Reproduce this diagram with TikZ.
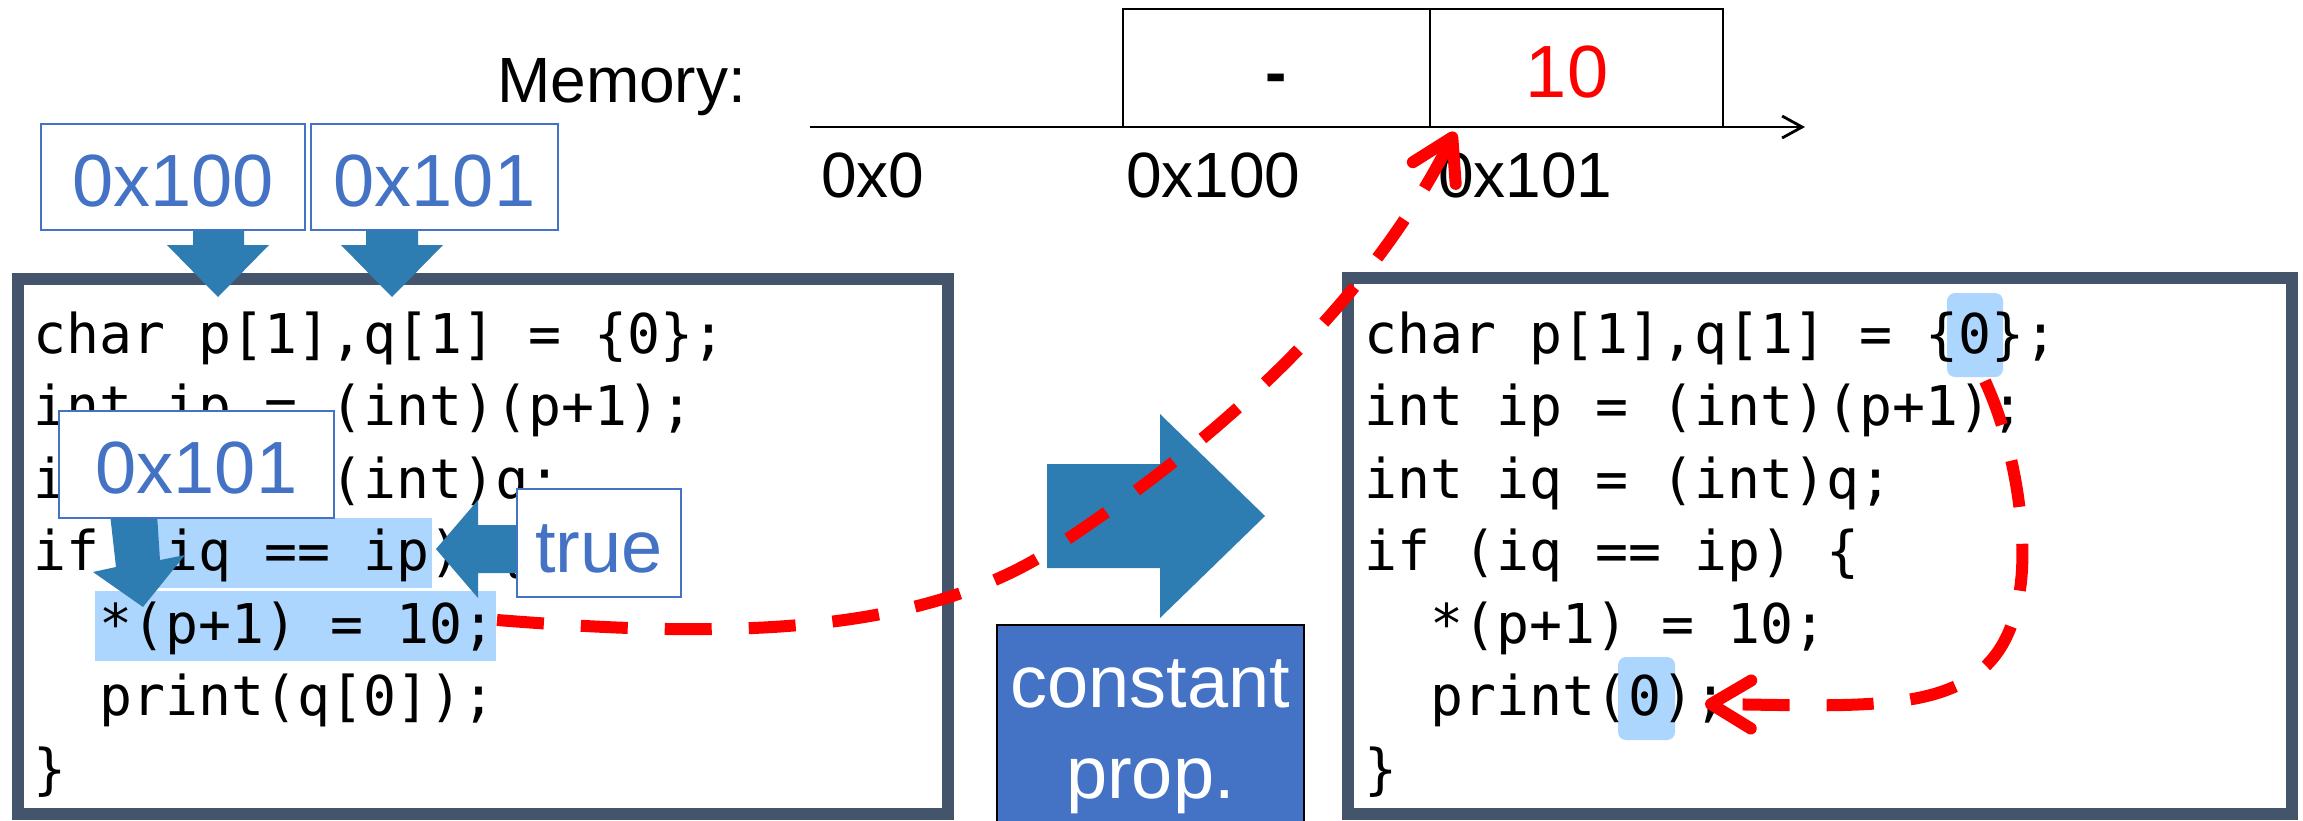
\documentclass[tikz,border=0pt]{standalone}
\usepackage{fontspec}
\usetikzlibrary{arrows.meta}
\newfontfamily\labelfont{Liberation Sans}
\newfontfamily\codefont{DejaVu Sans Mono}
\definecolor{lblue}{RGB}{68,114,196}
\definecolor{arrowblue}{RGB}{46,125,178}
\definecolor{hilite}{RGB}{173,214,255}
\definecolor{framegray}{RGB}{68,84,106}

\begin{document}
\begin{tikzpicture}[x=1pt,y=-1pt,
  codebox/.style={draw=framegray, line width=11.5pt, inner sep=0pt},
  hl/.style={fill=hilite, inner sep=0pt},
  codeline/.style={anchor=base west, inner sep=0pt, font=\codefont\fontsize{54.8}{72.5}\selectfont},
  lblbox/.style={draw=lblue, line width=2.5pt, fill=white, text=lblue, inner sep=0pt,
    text height=58pt, text depth=0pt, font=\labelfont\fontsize{74}{80}\selectfont},
  memtext/.style={anchor=base west, inner sep=0pt, font=\labelfont\fontsize{64}{70}\selectfont},
  memcell/.style={draw=black, line width=2.8pt, inner sep=0pt},
  blockarrow/.style={fill=arrowblue},
  bigtext/.style={anchor=base, inner sep=0pt, text=white, font=\labelfont\fontsize{74}{80}\selectfont},
  flow/.style={draw=red, line width=12pt, dash pattern=on 47pt off 37pt,
    -{Straight Barb[length=40pt,width=48pt,round]}},
]
\useasboundingbox (0,0) rectangle (2303,820);
\fill[white] (0,0) rectangle (2303,820);

% ---------- memory strip ----------
\node[memtext] (memlbl) at (497,102) {Memory:};
\node[memcell, minimum width=307pt, minimum height=118pt] (mcell1) at (1276.5,68) {};
\node[memcell, minimum width=293pt, minimum height=118pt] (mcell2) at (1576.5,68) {};
\coordinate (axisL) at (810,127);
\coordinate (axisR) at (1805,127);
\draw[line width=2.8pt, -{Straight Barb[length=20pt,width=22pt]}] (axisL) -- (axisR);
\node[anchor=base, inner sep=0pt, font=\labelfont\bfseries\fontsize{64}{70}\selectfont] (undef) at (1276.5,94) {-};
\node[anchor=base, inner sep=0pt, text=red, font=\labelfont\fontsize{74}{80}\selectfont] (ten) at (1567,97) {10};
\node[memtext] (a0) at (821,197) {0x0};
\node[memtext] (a100) at (1126,197) {0x100};
\node[memtext] (a101) at (1438,197) {0x101};

% ---------- source program ----------
\node[codebox, minimum width=930pt, minimum height=535pt] (srcbox) at (483,546.5) {};
\node[hl, minimum width=304pt, minimum height=70pt] (hlcond) at (280,553) {};
\node[hl, minimum width=401pt, minimum height=70pt] (hlten) at (295.5,626) {};
\node[codeline] (s1) at (33,353)   {char p[1],q[1] = \{0\};};
\node[codeline] (s2) at (33,425.5) {int ip = (int)(p+1);};
\node[codeline] (s3) at (33,498)   {int iq = (int)q;};
\node[codeline] (s4) at (33,570.5) {if (iq == ip) \{};
\node[codeline] (s5) at (99,643)   {*(p+1) = 10;};
\node[codeline] (s6) at (99,715.5) {print(q[0]);};
\node[codeline] (s7) at (33,788)   {\}};

% address arrows into the declaration
\fill[blockarrow] (193,226) -- (244,226) -- (244,245) -- (269,245) -- (218,297) -- (167,245) -- (193,245) -- cycle;
\fill[blockarrow] (366,226) -- (418,226) -- (418,245) -- (443,245) -- (392,297) -- (341,245) -- (366,245) -- cycle;
\node[lblbox, minimum width=264pt, minimum height=106pt] (b100) at (173,177) {0x100};
\node[lblbox, minimum width=247pt, minimum height=106pt] (b101) at (434.5,177) {0x101};

% address of p+1 and the condition value
\fill[blockarrow] (110,514) -- (157,514) -- (160,560) -- (185,555) -- (143,607) -- (93,572) -- (116,567) -- cycle;
\fill[blockarrow] (524,525) -- (478,525) -- (478,500) -- (436,549) -- (478,598) -- (478,573) -- (524,573) -- cycle;
\node[lblbox, minimum width=275pt, minimum height=107pt] (b101in) at (196.5,464.5) {0x101};
\node[lblbox, minimum width=164pt, minimum height=108pt] (btrue) at (599,543) {true};

% ---------- transformation ----------
\fill[blockarrow] (1047,464) -- (1160,464) -- (1160,414) -- (1265,516) -- (1160,618) -- (1160,568) -- (1047,568) -- cycle;
\node[draw=black, line width=2pt, fill=lblue, inner sep=0pt, minimum width=307pt, minimum height=197pt] (cprop) at (1150.5,723.5) {};
\node[bigtext] (cpropA) at (1150.5,707) {constant};
\node[bigtext] (cpropB) at (1150.5,798) {prop.};

% ---------- optimised program ----------
\node[codebox, minimum width=944pt, minimum height=536pt] (optbox) at (1820,546) {};
\node[hl, rounded corners=8pt, minimum width=56pt, minimum height=84pt] (hlz1) at (1975,335) {};
\node[hl, rounded corners=8pt, minimum width=57pt, minimum height=83pt] (hlz2) at (1646.5,698.5) {};
\node[codeline] (t1) at (1364.5,353)   {char p[1],q[1] = \{0\};};
\node[codeline] (t2) at (1364.5,425.5) {int ip = (int)(p+1);};
\node[codeline] (t3) at (1364.5,498)   {int iq = (int)q;};
\node[codeline] (t4) at (1364.5,570.5) {if (iq == ip) \{};
\node[codeline] (t5) at (1430.5,643)   {*(p+1) = 10;};
\node[codeline] (t6) at (1430.5,715.5) {print(0);};
\node[codeline] (t7) at (1364.5,788)   {\}};

% ---------- dashed flows ----------
\coordinate (redA) at (497,620);
\coordinate (redM) at (1040,557);
\coordinate (redB) at (1455,132);
\draw[flow] (redA) .. controls (700,636) and (900,640) .. (redM)
                   .. controls (1208,449) and (1365,310) .. (redB);
\coordinate (redC) at (1985,381);
\coordinate (redP) at (2022,570);
\coordinate (redD) at (1705,704);
\draw[flow] (redC) .. controls (2010,435) and (2025,510) .. (redP)
                   .. controls (2012,720) and (1900,706) .. (redD);
\end{tikzpicture}
\end{document}
